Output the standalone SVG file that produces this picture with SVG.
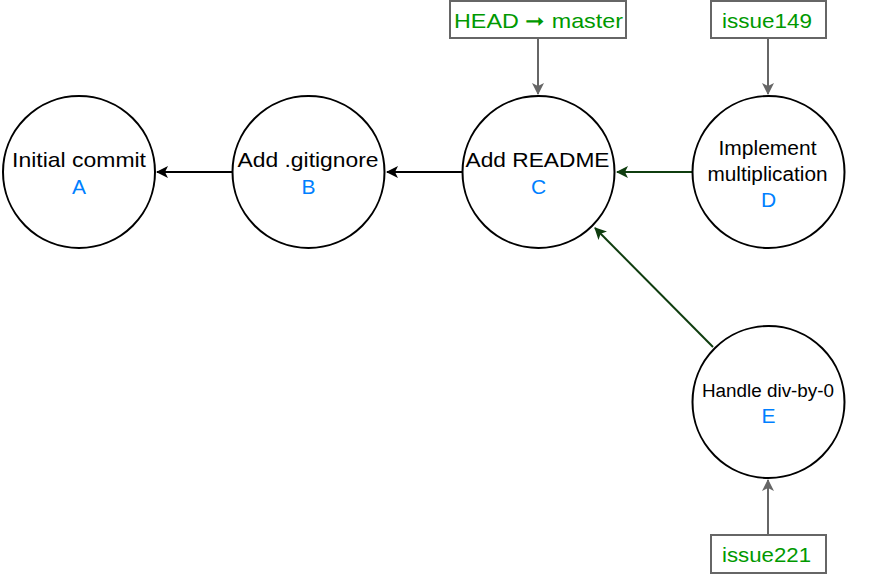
<svg xmlns="http://www.w3.org/2000/svg" width="890" height="586" viewBox="0 0 890 586">
<defs>
<style>
.c{fill:#fff;stroke:#000;stroke-width:2}
.t{font-family:"Liberation Sans",Arial,sans-serif;fill:#000;text-anchor:middle}
.id{font-family:"Liberation Sans",Arial,sans-serif;fill:#007FFF;text-anchor:middle;font-size:21px}
.lb{fill:#fff;stroke:#666;stroke-width:2}
.lt{font-family:"Liberation Sans",Arial,sans-serif;fill:#009900;text-anchor:middle;font-size:21px}
.k{stroke:#000;stroke-width:2;fill:none}
.g{stroke:#0F3D0F;stroke-width:2;fill:none}
.r{stroke:#666;stroke-width:2;fill:none}
</style>
<marker id="mk" viewBox="0 0 12 12" refX="11" refY="6" markerWidth="12" markerHeight="12" markerUnits="userSpaceOnUse" orient="auto"><path d="M0,0L12,6L0,12L3,6Z" fill="#000"/></marker>
<marker id="mg" viewBox="0 0 12 12" refX="11" refY="6" markerWidth="12" markerHeight="12" markerUnits="userSpaceOnUse" orient="auto"><path d="M0,0L12,6L0,12L3,6Z" fill="#0F3D0F"/></marker>
<marker id="mr" viewBox="0 0 12 12" refX="11" refY="6" markerWidth="12" markerHeight="12" markerUnits="userSpaceOnUse" orient="auto"><path d="M0,0L12,6L0,12L3,6Z" fill="#666"/></marker>
</defs>
<rect width="890" height="586" fill="#fff"/>
<g id="connectors">
<line class="k" x1="232" y1="172" x2="157" y2="172" marker-end="url(#mk)"/>
<line class="k" x1="462" y1="172" x2="387" y2="172" marker-end="url(#mk)"/>
<line class="g" x1="692" y1="172" x2="617" y2="172" marker-end="url(#mg)"/>
<line class="g" x1="713" y1="347" x2="595" y2="228" marker-end="url(#mg)"/>
<line class="r" x1="538" y1="38" x2="538" y2="94" marker-end="url(#mr)"/>
<line class="r" x1="768" y1="38" x2="768" y2="94" marker-end="url(#mr)"/>
<line class="r" x1="768" y1="535" x2="768" y2="480" marker-end="url(#mr)"/>
</g>
<g id="A">
<circle class="c" cx="79" cy="172" r="76"/>
<text class="t" x="79" y="167" font-size="21" textLength="134" lengthAdjust="spacingAndGlyphs">Initial commit</text>
<text class="id" x="79" y="194">A</text>
</g>
<g id="B">
<circle class="c" cx="308.5" cy="172" r="76"/>
<text class="t" x="308" y="167" font-size="21" textLength="141" lengthAdjust="spacingAndGlyphs">Add .gitignore</text>
<text class="id" x="308.5" y="194">B</text>
</g>
<g id="C">
<circle class="c" cx="538.5" cy="172" r="76"/>
<text class="t" x="537.5" y="167" font-size="21" textLength="144" lengthAdjust="spacingAndGlyphs">Add README</text>
<text class="id" x="538.5" y="194">C</text>
</g>
<g id="D">
<circle class="c" cx="768.5" cy="172" r="76"/>
<text class="t" x="767.5" y="155" font-size="19.5" textLength="98" lengthAdjust="spacingAndGlyphs">Implement</text>
<text class="t" x="767.5" y="181" font-size="19.5" textLength="120" lengthAdjust="spacingAndGlyphs">multiplication</text>
<text class="id" x="768.5" y="207">D</text>
</g>
<g id="E">
<circle class="c" cx="768.5" cy="402" r="76"/>
<text class="t" x="768" y="397" font-size="18" textLength="132" lengthAdjust="spacingAndGlyphs">Handle div-by-0</text>
<text class="id" x="768.5" y="423">E</text>
</g>
<g id="master">
<rect class="lb" x="450" y="1" width="176" height="37"/>
<text class="lt" x="538.5" y="27.5" textLength="169" lengthAdjust="spacingAndGlyphs">HEAD ➞ master</text>
</g>
<g id="issue149">
<rect class="lb" x="711" y="1" width="115" height="37"/>
<text class="lt" x="767" y="27.5" textLength="90" lengthAdjust="spacingAndGlyphs">issue149</text>
</g>
<g id="issue221">
<rect class="lb" x="711" y="535" width="115" height="38"/>
<text class="lt" x="766.5" y="562" textLength="89" lengthAdjust="spacingAndGlyphs">issue221</text>
</g>
</svg>
